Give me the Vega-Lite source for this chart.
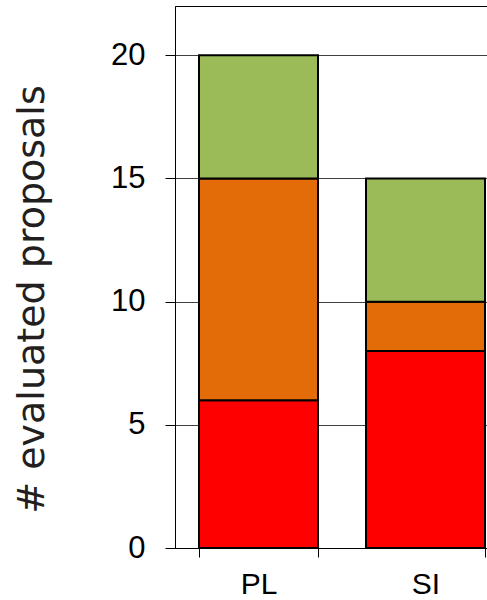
{
  "$schema": "https://vega.github.io/schema/vega-lite/v6.json",
  "autosize": "none",
  "padding": {"left": 175, "top": 6, "right": 0, "bottom": 52},
  "width": 312,
  "height": 542,
  "background": "white",
  "config": {
    "view": {"stroke": "#000000", "strokeWidth": 1},
    "font": "Liberation Sans"
  },
  "data": {
    "values": [
      {"group": "PL", "status": "red", "order": 1, "count": 6},
      {"group": "PL", "status": "orange", "order": 2, "count": 9},
      {"group": "PL", "status": "green", "order": 3, "count": 5},
      {"group": "SI", "status": "red", "order": 1, "count": 8},
      {"group": "SI", "status": "orange", "order": 2, "count": 2},
      {"group": "SI", "status": "green", "order": 3, "count": 5}
    ]
  },
  "mark": {"type": "bar", "stroke": "#000000", "strokeWidth": 2},
  "encoding": {
    "x": {
      "field": "group",
      "type": "nominal",
      "sort": ["PL", "SI"],
      "scale": {"range": [0, 334], "paddingInner": 0.2874, "paddingOuter": 0.1437},
      "axis": {
        "title": null,
        "labelAngle": 0,
        "labelFont": "Liberation Sans",
        "labelFontSize": 30,
        "labelColor": "#000000",
        "labelPadding": 12,
        "tickBand": "extent",
        "tickSize": 9,
        "tickColor": "#000000",
        "domainColor": "#000000",
        "grid": false
      }
    },
    "y": {
      "field": "count",
      "type": "quantitative",
      "stack": "zero",
      "scale": {"domain": [0, 22], "nice": false},
      "axis": {
        "title": "# evaluated proposals",
        "titleFont": "DejaVu Sans",
        "titleFontSize": 38,
        "titleFontWeight": "normal",
        "titleColor": "#231f20",
        "titleAngle": 270,
        "titleAlign": "center",
        "titleBaseline": "alphabetic",
        "titleX": -132,
        "titleY": 293,
        "values": [0, 5, 10, 15, 20],
        "labelFont": "Liberation Sans",
        "labelFontSize": 31,
        "labelColor": "#000000",
        "labelPadding": 20,
        "tickSize": 10,
        "tickColor": "#000000",
        "domainColor": "#000000",
        "grid": true,
        "gridColor": "#404040",
        "gridWidth": 1,
        "gridOpacity": 1
      }
    },
    "color": {
      "field": "status",
      "type": "nominal",
      "scale": {"domain": ["red", "orange", "green"], "range": ["#ff0000", "#e36c09", "#9bbb59"]},
      "legend": null
    },
    "order": {"field": "order", "type": "quantitative"}
  }
}
